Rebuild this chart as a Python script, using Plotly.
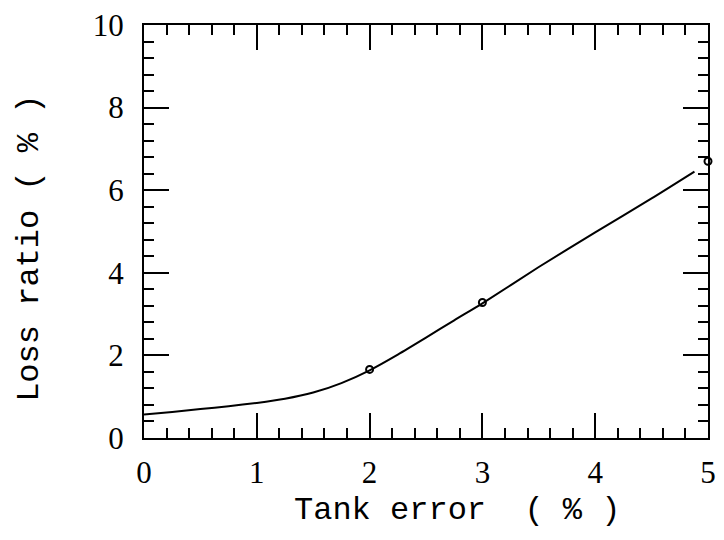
import plotly.graph_objects as go

# Curve: loss ratio (%) vs tank error (%)
curve_x = [0, 0.25, 0.5, 0.75, 1.0, 1.25, 1.5, 1.75, 2.0, 2.25, 2.5, 2.75, 3.0, 3.5, 4.0, 4.5, 4.88]
curve_y = [0.57, 0.63, 0.70, 0.77, 0.85, 0.95, 1.10, 1.33, 1.64, 2.02, 2.43, 2.85, 3.26, 4.14, 4.98, 5.80, 6.45]

# Marked points
pts_x = [2, 3, 5]
pts_y = [1.66, 3.28, 6.7]

x_ticks = [0, 1, 2, 3, 4, 5]
y_ticks = [0, 2, 4, 6, 8, 10]

font_fam = "Liberation Serif"
title_fam = "Liberation Mono"

fig = go.Figure()
fig.add_trace(go.Scatter(x=curve_x, y=curve_y, mode="lines",
                         line=dict(color="black", width=2), line_shape="spline",
                         line_smoothing=0.6, showlegend=False))
fig.add_trace(go.Scatter(x=pts_x, y=pts_y, mode="markers",
                         marker=dict(symbol="circle-open", size=7, color="black",
                                     line=dict(width=2)),
                         cliponaxis=False, showlegend=False))

axis_common = dict(showgrid=False, zeroline=False, showline=True, linecolor="black",
                   linewidth=2, mirror="allticks", ticks="inside", ticklen=25,
                   tickwidth=2, tickcolor="black",
                   tickfont=dict(family=font_fam, size=31, color="black"))

fig.update_xaxes(range=[0, 5], tickvals=x_ticks, ticktext=[str(v) for v in x_ticks],
                 ticklabelstandoff=6,
                 minor=dict(dtick=0.2, ticks="inside", ticklen=10, tickwidth=2,
                            tickcolor="black", showgrid=False),
                 **axis_common)
fig.update_yaxes(range=[0, 10], tickvals=y_ticks, ticktext=[str(v) for v in y_ticks],
                 ticklabelstandoff=12,
                 minor=dict(dtick=0.4, ticks="inside", ticklen=10, tickwidth=2,
                            tickcolor="black", showgrid=False),
                 **axis_common)

fig.add_annotation(text="Tank error  ( % )", xref="paper", yref="paper",
                   x=(461 - 144) / 572, y=-(512 - 438) / 420, showarrow=False,
                   font=dict(family=title_fam, size=32, color="black"),
                   xanchor="center", yanchor="middle")
fig.add_annotation(text="Loss ratio ( % )", xref="paper", yref="paper",
                   x=-(144 - 28) / 572, y=(438 - 245) / 420, showarrow=False,
                   textangle=-90,
                   font=dict(family=title_fam, size=32, color="black"),
                   xanchor="center", yanchor="middle")

fig.update_layout(width=724, height=540, paper_bgcolor="white", plot_bgcolor="white",
                  margin=dict(l=144, r=8, t=18, b=102))

fig.write_html("out.html")
